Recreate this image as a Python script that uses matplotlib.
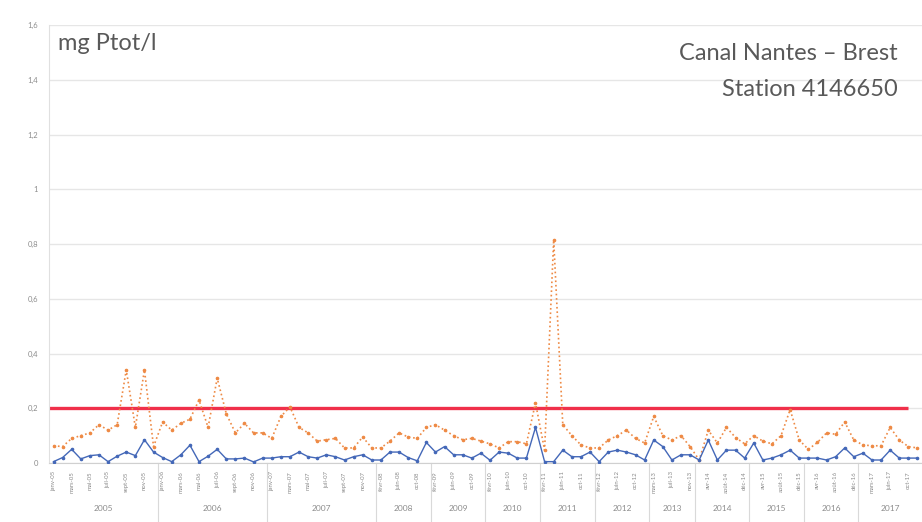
import numpy as np
import matplotlib
matplotlib.use("Agg")
import matplotlib.pyplot as plt
from matplotlib.transforms import blended_transform_factory

plt.rcParams['font.family'] = ['Lato', 'DejaVu Sans']

# ---- data (mg Ptot/l) ----
years = [2005, 2006, 2007, 2008, 2009, 2010, 2011, 2012, 2013, 2014, 2015, 2016, 2017]
samples_per_year = [12, 12, 12, 6, 6, 6, 6, 6, 5, 6, 6, 6, 7]

ptot = [0.063, 0.06, 0.09, 0.10, 0.11, 0.14, 0.12, 0.14, 0.34, 0.13, 0.34, 0.06,
        0.15, 0.12, 0.145, 0.16, 0.23, 0.13, 0.31, 0.18, 0.11, 0.145, 0.11, 0.11,
        0.09, 0.17, 0.205, 0.13, 0.11, 0.08, 0.085, 0.09, 0.055, 0.055, 0.095, 0.055,
        0.055, 0.08, 0.11, 0.095, 0.09, 0.13,
        0.14, 0.12, 0.10, 0.085, 0.09, 0.08,
        0.07, 0.055, 0.078, 0.078, 0.07, 0.22,
        0.047, 0.815, 0.14, 0.10, 0.066, 0.055,
        0.055, 0.084, 0.10, 0.12, 0.09, 0.073,
        0.17, 0.10, 0.084, 0.10, 0.06,
        0.011, 0.12, 0.073, 0.13, 0.093, 0.07,
        0.10, 0.08, 0.07, 0.10, 0.195, 0.084,
        0.05, 0.075, 0.11, 0.105, 0.15, 0.084,
        0.066, 0.063, 0.063, 0.13, 0.084, 0.06, 0.055]

po4 = [0.005, 0.02, 0.05, 0.015, 0.027, 0.03, 0.005, 0.025, 0.04, 0.027, 0.085, 0.04,
       0.02, 0.005, 0.03, 0.065, 0.005, 0.025, 0.05, 0.015, 0.015, 0.018, 0.004, 0.018,
       0.018, 0.023, 0.023, 0.04, 0.023, 0.018, 0.03, 0.023, 0.011, 0.023, 0.03, 0.011,
       0.011, 0.04, 0.04, 0.02, 0.008, 0.075,
       0.04, 0.06, 0.03, 0.03, 0.018, 0.036,
       0.01, 0.04, 0.036, 0.018, 0.018, 0.13,
       0.005, 0.005, 0.047, 0.023, 0.023, 0.04,
       0.005, 0.04, 0.047, 0.04, 0.03, 0.011,
       0.084, 0.06, 0.011, 0.03, 0.03,
       0.011, 0.084, 0.011, 0.047, 0.047, 0.018,
       0.073, 0.011, 0.018, 0.03, 0.047, 0.018,
       0.018, 0.018, 0.011, 0.023, 0.055, 0.023,
       0.036, 0.011, 0.011, 0.047, 0.018, 0.018, 0.018]

threshold = 0.2
y_ticks = [0, 0.2, 0.4, 0.6, 0.8, 1, 1.2, 1.4, 1.6]
y_tick_labels = ['0', '0,2', '0,4', '0,6', '0,8', '1', '1,2', '1,4', '1,6']

months_12 = ['janv', 'févr', 'mars', 'avr', 'mai', 'juin',
             'juil', 'août', 'sept', 'oct', 'nov', 'déc']
months_6 = ['févr', 'avr', 'juin', 'août', 'oct', 'déc']
months_5 = ['mars', 'mai', 'juil', 'sept', 'nov']
months_7 = ['janv', 'mars', 'mai', 'juin', 'août', 'oct', 'déc']

sample_labels = []
for yr, n in zip(years, samples_per_year):
    names = {12: months_12, 6: months_6, 5: months_5, 7: months_7}[n]
    sample_labels += ['%s-%02d' % (m, yr % 100) for m in names]

x = np.arange(len(ptot))

fig = plt.figure(figsize=(9.22, 5.22), dpi=100)
ax = fig.add_axes([0.0531, 0.1130, 0.9469, 0.8391])

ax.set_ylim(0, 1.6)
ax.set_xlim(-0.5, len(x) - 0.5)
ax.set_yticks(y_ticks)
ax.set_yticklabels(y_tick_labels, fontsize=5.5, color='#8c8c8c')
ax.grid(axis='y', color='#e6e6e6', linewidth=1.0)
ax.set_axisbelow(True)
ax.tick_params(axis='y', length=0, pad=8)

for s in ['top', 'right']:
    ax.spines[s].set_visible(False)
ax.spines['left'].set_color('#e0e0e0')
ax.spines['bottom'].set_color('#d0d0d0')

# series
ax.hlines(threshold, -0.5, len(x) - 2, color='#f0304a', linewidth=2.4, zorder=2)
ax.plot(x, ptot, color='#ee8a45', linestyle=':', linewidth=1.2,
        marker='o', markersize=1.6, zorder=3)
ax.plot(x, po4, color='#4468b8', linestyle='-', linewidth=1.0,
        marker='o', markersize=1.6, zorder=4)

# sample tick labels every second point
ax.set_xticks(x[::2])
ax.set_xticklabels(sample_labels[::2], rotation=90, fontsize=4.3, color='#8a8a8a')
ax.tick_params(axis='x', length=0, pad=6)

# year grouping below the axis
trans = blended_transform_factory(ax.transData, ax.transAxes)
edges = np.concatenate([[0], np.cumsum(samples_per_year)]) - 0.5
for e in edges[1:-1]:
    ax.plot([e, e], [0, -0.14], transform=trans, color='#d9d9d9',
            linewidth=0.8, clip_on=False)
for yr, a, b in zip(years, edges[:-1], edges[1:]):
    ax.text((a + b) / 2, -0.103, str(yr), transform=trans, ha='center',
            va='center', fontsize=6, color='#8c8c8c')

# annotations
fig.text(58 / 922, 1 - 44 / 522, 'mg Ptot/l', fontsize=17, color='#595959',
         ha='left', va='center')
fig.text(898 / 922, 1 - 53 / 522, 'Canal Nantes – Brest', fontsize=17,
         color='#595959', ha='right', va='center')
fig.text(898 / 922, 1 - 90 / 522, 'Station 4146650', fontsize=17,
         color='#595959', ha='right', va='center')

fig.savefig('out.png', dpi=100)
